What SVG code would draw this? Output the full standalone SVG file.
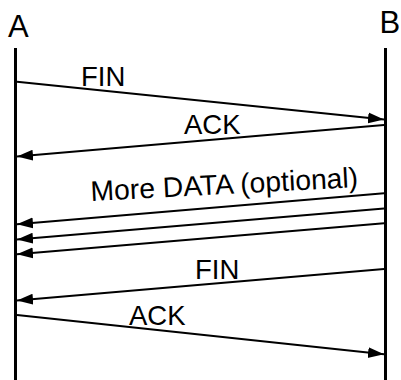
<svg xmlns="http://www.w3.org/2000/svg" width="401" height="380" viewBox="0 0 401 380">
<style>
text{font-family:"Liberation Sans",Arial,sans-serif;fill:#000}
.end{font-size:31px}
.lbl{font-size:27.5px}
.big{font-size:28.3px}
.life{stroke:#000;stroke-width:3;fill:none}
.msg{stroke:#000;stroke-width:2;fill:none;marker-end:url(#ah)}
</style>
<defs>
<marker id="ah" markerUnits="userSpaceOnUse" markerWidth="16" markerHeight="12" refX="16" refY="5.5" orient="auto" viewBox="0 0 16 11">
<path d="M0,0 L16,5.5 L0,11 z" fill="#000"/>
</marker>
</defs>
<g id="nodeA">
<text class="end" x="8" y="37">A</text>
<line class="life" x1="15.5" y1="48" x2="15.5" y2="380"/>
</g>
<g id="nodeB">
<text class="end" x="379.5" y="33">B</text>
<line class="life" x1="385.5" y1="48" x2="385.5" y2="380"/>
</g>
<g id="connectors">
<line class="msg" x1="17" y1="81.7" x2="384" y2="119.5"/>
<line class="msg" x1="384" y1="125" x2="17" y2="156.5"/>
<line class="msg" x1="384" y1="193.3" x2="17" y2="224.3"/>
<line class="msg" x1="384" y1="208.5" x2="17" y2="239.5"/>
<line class="msg" x1="384" y1="223.3" x2="17" y2="254.3"/>
<line class="msg" x1="384" y1="269" x2="17" y2="300.5"/>
<line class="msg" x1="17" y1="315" x2="384" y2="354.3"/>
</g>
<g id="labels">
<text class="lbl" x="81" y="86">FIN</text>
<text class="lbl" x="184" y="134">ACK</text>
<text class="big" x="91" y="201" transform="rotate(-3 91 201)">More DATA (optional)</text>
<text class="lbl" x="195" y="279">FIN</text>
<text class="lbl" x="129" y="325">ACK</text>
</g>
</svg>
